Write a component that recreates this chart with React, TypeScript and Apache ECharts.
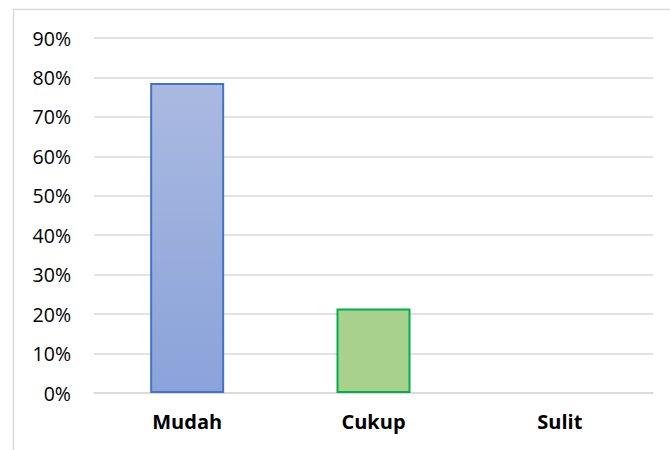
import React, { useEffect, useRef } from "react";
import * as echarts from "echarts";

const categories = ["Mudah", "Cukup", "Sulit"];
const values = [78.6, 21.4, 0];
const yTicks = [0, 10, 20, 30, 40, 50, 60, 70, 80, 90];

export default function App() {
  const ref = useRef<HTMLDivElement>(null);
  useEffect(() => {
    document.body.style.margin = "0";
    const chart = echarts.init(ref.current!, null, { renderer: "svg" });
    const font = "'Open Sans', sans-serif";
    chart.setOption({
      animation: false,
      backgroundColor: "#ffffff",
      graphic: [
        {
          type: "rect",
          shape: { x: 13.5, y: 9.5, width: 700, height: 470 },
          style: { fill: "none", stroke: "#d9d9d9", lineWidth: 1.5 },
          silent: true,
        },
      ],
      grid: { left: 94, right: 17, top: 38, bottom: 57, containLabel: false },
      xAxis: {
        type: "category",
        data: categories,
        axisLine: { show: true, lineStyle: { color: "#d9d9d9", width: 1.5 } },
        axisTick: { show: false },
        axisLabel: {
          color: "#000000",
          fontSize: 20,
          fontWeight: "bold",
          fontFamily: font,
          margin: 18,
        },
      },
      yAxis: {
        type: "value",
        min: 0,
        max: 90,
        interval: 10,
        axisLine: { show: false },
        axisTick: { show: false },
        splitLine: { lineStyle: { color: "#d9d9d9", width: 1.5 } },
        axisLabel: {
          color: "#000000",
          fontSize: 19.5,
          fontFamily: font,
          margin: 23,
          formatter: (v: number) => (yTicks.includes(v) ? v + "%" : ""),
        },
      },
      series: [
        {
          type: "bar",
          barWidth: 74,
          data: values.map((v, i) => ({
            value: v,
            itemStyle:
              i === 0
                ? {
                    color: new echarts.graphic.LinearGradient(0, 0, 0, 1, [
                      { offset: 0, color: "#aab9e1" },
                      { offset: 1, color: "#8aa3da" },
                    ]),
                    borderColor: "#4472c4",
                    borderWidth: 2,
                  }
                : v === 0
                ? { color: "transparent", borderWidth: 0 }
                : {
                    color: "#a9d18e",
                    borderColor: "#00b050",
                    borderWidth: 2,
                  },
          })),
        },
      ],
    });
    return () => chart.dispose();
  }, []);
  return <div ref={ref} style={{ width: 670, height: 450 }} />;
}
